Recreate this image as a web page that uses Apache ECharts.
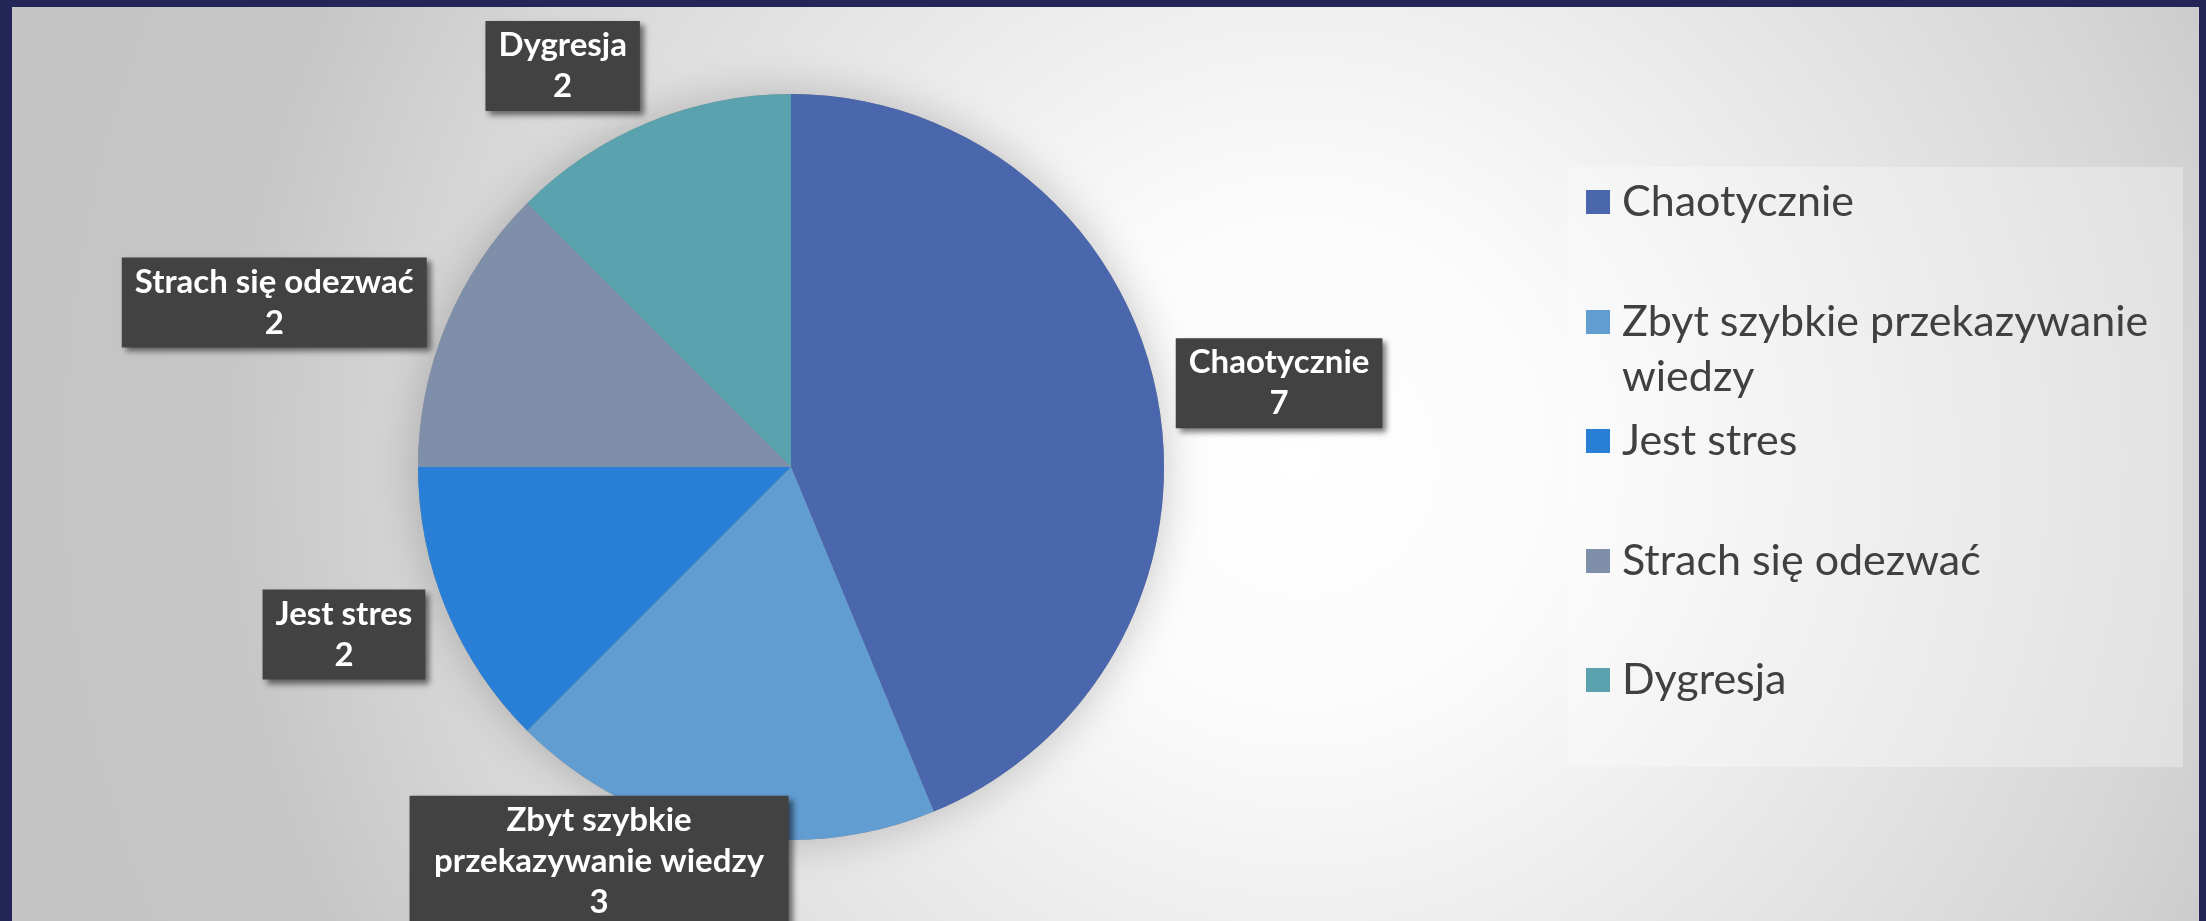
<!DOCTYPE html>
<html>
<head>
<meta charset="utf-8">
<script src="https://cdn.jsdelivr.net/npm/echarts@6/dist/echarts.min.js"></script>
<style>
  html, body { margin: 0; padding: 0; width: 2206px; height: 921px; overflow: hidden; background: #252658; }
  #slide {
    position: absolute; left: 12px; top: 7px; width: 2187px; height: 914px;
    background: radial-gradient(circle at 1290px 455px, #ffffff 0px, #fbfbfb 260px, #e8e8e8 580px, #d6d6d6 880px, #c6c6c6 1080px, #c4c4c4 1400px);
  }
  #chart { position: absolute; left: 0; top: 0; width: 2206px; height: 921px; }
</style>
</head>
<body>
<div id="slide"></div>
<div id="chart"></div>
<script>
// Survey answers: how the lessons are perceived
const categories = ['Chaotycznie', 'Zbyt szybkie przekazywanie wiedzy', 'Jest stres', 'Strach się odezwać', 'Dygresja'];
const counts = [7, 3, 2, 2, 2];
const sliceColors = ['#4A66AC', '#629DD1', '#297FD5', '#7F8FA9', '#5AA2AE'];

// label leader geometry (hidden lines, used only to place the label boxes)
const leaderLengths = [[56, -36], [29, -76], [65, -39], [57, -33], [61, -15]];
// vertical centre of each legend row
const legendRowCenters = [202, 322, 441, 561, 680];

const PIE_CENTER = [791, 467];
const PIE_RADIUS = 373;
const WRAP_CHARS = 20;
const total = counts.reduce((a, b) => a + b, 0);

// greedy word wrap for the data label boxes
function wrapWords(text, maxChars) {
  const lines = [];
  let cur = '';
  text.split(' ').forEach(w => {
    const next = cur ? cur + ' ' + w : w;
    if (next.length > maxChars && cur) { lines.push(cur); cur = w; }
    else cur = next;
  });
  if (cur) lines.push(cur);
  return lines;
}

const chart = echarts.init(document.getElementById('chart'), null, { renderer: 'canvas' });

const legends = categories.map((name, i) => {
  const twoLines = name.length > 26;
  return {
    data: [name],
    orient: 'vertical',
    left: 1586,
    top: legendRowCenters[i] - (twoLines ? 82.5 : 27.5),
    padding: 0,
    icon: 'rect',
    itemWidth: 24,
    itemHeight: 24,
    selectedMode: false,
    // an empty leading line keeps the marker beside the first text line
    formatter: n => (twoLines ? '\n' : '') + n,
    textStyle: {
      color: '#404040',
      fontFamily: 'Lato',
      fontSize: 43,
      lineHeight: 55,
      width: 555,
      overflow: 'break',
      padding: [0, 0, 0, 7]
    }
  };
});

chart.setOption({
  animation: false,
  backgroundColor: 'transparent',
  graphic: [{
    type: 'rect',
    z: 0,
    silent: true,
    shape: { x: 1567, y: 167, width: 616, height: 600 },
    style: { fill: 'rgba(255,255,255,0.3)' }
  }],
  legend: legends,
  series: [
    {
      // soft shadow under the whole pie
      type: 'pie',
      z: 1,
      silent: true,
      center: PIE_CENTER,
      radius: PIE_RADIUS,
      data: [{ value: total, name: '' }],
      label: { show: false },
      labelLine: { show: false },
      emphasis: { disabled: true },
      itemStyle: { color: '#8a8a8a', shadowBlur: 45, shadowColor: 'rgba(0,0,0,0.22)' }
    },
    {
      type: 'pie',
      z: 2,
      center: PIE_CENTER,
      radius: PIE_RADIUS,
      startAngle: 90,
      clockwise: true,
      avoidLabelOverlap: false,
      emphasis: { disabled: true },
      data: categories.map((name, i) => ({
        name,
        value: counts[i],
        itemStyle: { color: sliceColors[i] },
        labelLine: { length: leaderLengths[i][0], length2: leaderLengths[i][1] },
        label: name.length > WRAP_CHARS ? { width: 353 } : {}
      })),
      label: {
        show: true,
        position: 'outside',
        distanceToLabelLine: 0,
        formatter: p => wrapWords(p.name, WRAP_CHARS).map(l => '{t|' + l + '}').join('\n') + '\n{t|' + p.value + '}',
        backgroundColor: '#424242',
        padding: [4, 13],
        shadowColor: 'rgba(0,0,0,0.55)',
        shadowBlur: 6,
        shadowOffsetX: 4,
        shadowOffsetY: 4,
        rich: {
          t: {
            color: '#ffffff',
            fontFamily: 'Lato',
            fontWeight: 'bold',
            fontSize: 33,
            lineHeight: 41,
            align: 'center'
          }
        }
      },
      labelLine: { show: false }
    }
  ]
});
</script>
</body>
</html>
